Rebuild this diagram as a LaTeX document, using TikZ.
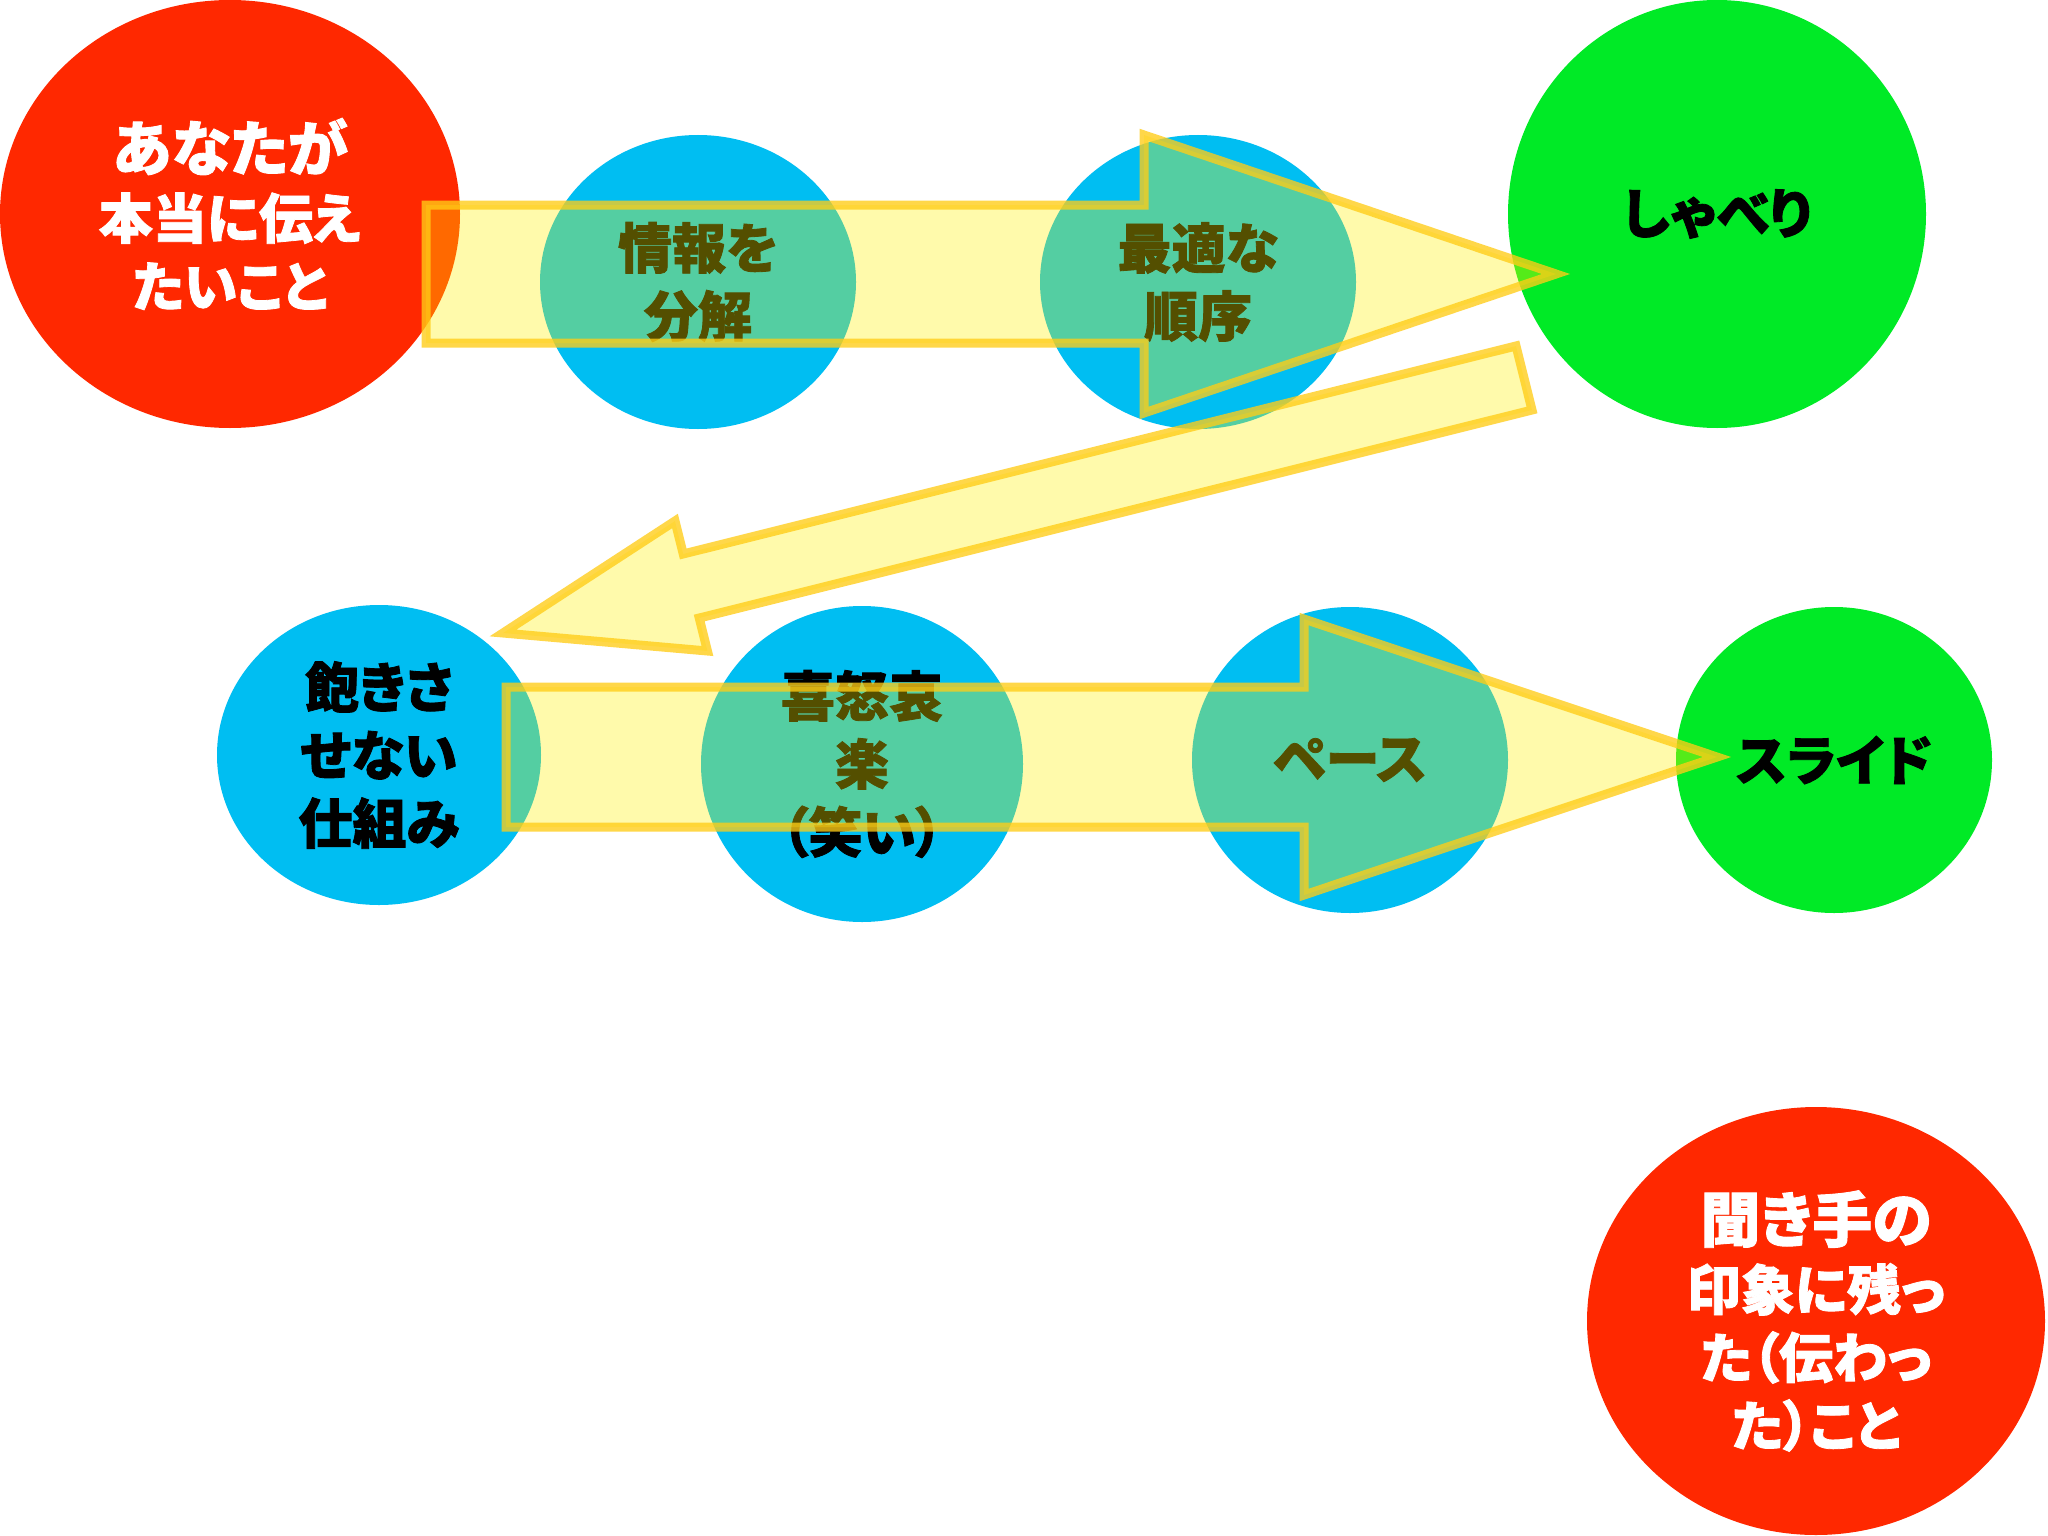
\documentclass[tikz,border=0pt]{standalone}
\usepackage{fontspec}
\newfontfamily\cjk{Noto Sans CJK JP}[RawFeature=+palt, BoldFeatures={FakeBold=1.5}]
\usetikzlibrary{shapes.geometric,calc}
\definecolor{cred}{RGB}{255,40,0}
\definecolor{cblue}{RGB}{0,190,242}
\definecolor{cgreen}{RGB}{0,234,38}
\definecolor{afill}{RGB}{255,240,0}
\definecolor{aline}{RGB}{255,205,23}
\newcommand\drawblockarrow[5]{%
  \coordinate (ba-c) at ($(#2)!#5!(#1)$);
  \draw[blockarrow] ($(#1)!#3!90:(#2)$) -- ($(ba-c)!#3!90:(#2)$) -- ($(ba-c)!#4!90:(#2)$) -- (#2)
    -- ($(ba-c)!#4!-90:(#2)$) -- ($(ba-c)!#3!-90:(#2)$) -- ($(#1)!#3!-90:(#2)$) -- cycle;}
\begin{document}
\begin{tikzpicture}[x=1pt,y=-1pt,
  blob/.style={ellipse, inner sep=0pt, align=center, font=\cjk\bfseries\fontsize{54}{68}\selectfont},
  redblob/.style={blob, fill=cred, text=white},
  blueblob/.style={blob, fill=cblue, text=black},
  greenblob/.style={blob, fill=cgreen, text=black},
  blockarrow/.style={fill=afill, fill opacity=0.33, draw=aline, draw opacity=0.78, line width=9pt, line join=miter}]
\useasboundingbox (0,0) rectangle (2048,1536);
\fill[white] (0,0) rectangle (2048,1536);
% top row
\node[redblob, minimum width=460pt, minimum height=428pt] (want) at (230,214)
  {{\fontsize{60}{68}\selectfont あなたが}\\本当に伝え\\たいこと};
\node[blueblob, minimum width=316pt, minimum height=294pt] (split) at (698,282) {情報を\\分解};
\node[blueblob, minimum width=316pt, minimum height=294pt] (order) at (1198,282) {最適な\\順序};
\node[greenblob, minimum width=418pt, minimum height=428pt] (talk) at (1717,214) {しゃべり};
% middle row
\node[blueblob, minimum width=324pt, minimum height=300pt] (bored) at (379,755) {飽きさ\\せない\\仕組み};
\node[blueblob, minimum width=322pt, minimum height=316pt] (emo) at (862,764) {喜怒哀\\楽\\（笑い）};
\node[blueblob, minimum width=316pt, minimum height=306pt] (pace) at (1350,760) {ペース};
\node[greenblob, minimum width=316pt, minimum height=306pt] (slide) at (1834,760) {スライド};
% bottom
\node[redblob, minimum width=458pt, minimum height=428pt] (heard) at (1816,1321)
  {{\fontsize{60}{68}\selectfont 聞き手の}\\印象に残っ\\た（伝わっ\\た）こと};
% block arrows
\coordinate (a1s) at (426,274);
\coordinate (a1e) at (1556,274);
\coordinate (a2s) at (1524,378);
\coordinate (a2e) at (503,633);
\coordinate (a3s) at (506,757);
\coordinate (a3e) at (1717,757);
\drawblockarrow{a1s}{a1e}{69pt}{139pt}{412pt}
\drawblockarrow{a2s}{a2e}{33pt}{67pt}{194pt}
\drawblockarrow{a3s}{a3e}{70pt}{138pt}{413pt}
\end{tikzpicture}
\end{document}
